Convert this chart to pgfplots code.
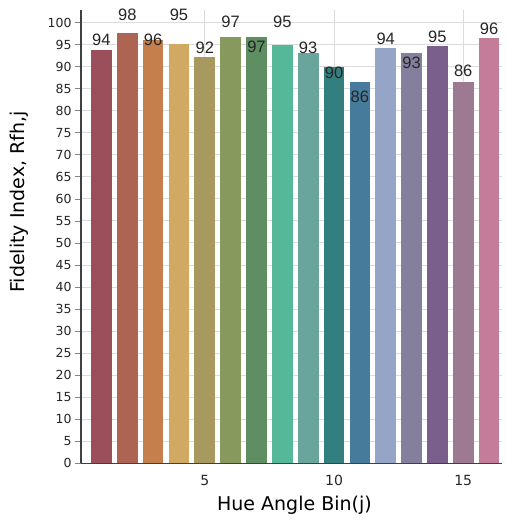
\documentclass[border=0pt]{standalone}
\usepackage{fontspec}
\setmainfont{DejaVu Sans}
\newfontfamily\valfont{Liberation Sans}
\usepackage{pgfplots}
\pgfplotsset{compat=1.18}
\definecolor{c1}{HTML}{9B4F5B}
\definecolor{c2}{HTML}{AE6452}
\definecolor{c3}{HTML}{C47F4D}
\definecolor{c4}{HTML}{D2A962}
\definecolor{c5}{HTML}{A89A5E}
\definecolor{c6}{HTML}{87995C}
\definecolor{c7}{HTML}{5E8E61}
\definecolor{c8}{HTML}{55B898}
\definecolor{c9}{HTML}{6AA59C}
\definecolor{c10}{HTML}{337F80}
\definecolor{c11}{HTML}{467B9B}
\definecolor{c12}{HTML}{95A5C8}
\definecolor{c13}{HTML}{857F9E}
\definecolor{c14}{HTML}{7A5E8C}
\definecolor{c15}{HTML}{9E7A92}
\definecolor{c16}{HTML}{C57C9B}
\definecolor{gridc}{HTML}{DCDCDC}
\definecolor{axc}{HTML}{404040}
\begin{document}
\begin{tikzpicture}
\path[use as bounding box] (-81pt,-58.7pt) rectangle (426pt,463.3pt);
\begin{axis}[
  scale only axis, width=421pt, height=453pt,
  xmin=0.21, xmax=16.5, ymin=0, ymax=102.8,
  axis x line*=bottom, axis y line*=left,
  axis line style={draw=axc, line width=1.5pt},
  ytick={0,5,...,100}, xtick={5,10,15},
  /pgf/number format/assume math mode=true,
  grid=major, grid style={draw=gridc, line width=1pt},
  tick align=outside,
  ytick style={draw=gridc!60!black, line width=0.8pt},
  major tick length=6pt,
  xtick style={draw=none},
  yticklabel style={font=\fontsize{12.5}{12.5}\selectfont, text=black!85},
  xticklabel style={font=\fontsize{14}{14}\selectfont, text=black!85, yshift=-2pt},
  xlabel={Hue Angle Bin(j)},
  ylabel={Fidelity Index, Rfh,j},
  xlabel style={font=\fontsize{19}{19}\selectfont, at={(axis description cs:0.507,-0.092)}, anchor=center},
  ylabel style={font=\fontsize{19}{19}\selectfont, at={(axis description cs:-0.146,0.577)}, anchor=center, rotate=0},
  ybar, bar width=0.8, bar shift=0pt,
  clip=false,
]
\addplot[fill=c1, draw=none] coordinates {(1,93.9)};
\addplot[fill=c2, draw=none] coordinates {(2,97.6)};
\addplot[fill=c3, draw=none] coordinates {(3,96.0)};
\addplot[fill=c4, draw=none] coordinates {(4,95.1)};
\addplot[fill=c5, draw=none] coordinates {(5,92.1)};
\addplot[fill=c6, draw=none] coordinates {(6,96.7)};
\addplot[fill=c7, draw=none] coordinates {(7,96.7)};
\addplot[fill=c8, draw=none] coordinates {(8,95.0)};
\addplot[fill=c9, draw=none] coordinates {(9,93.0)};
\addplot[fill=c10, draw=none] coordinates {(10,89.9)};
\addplot[fill=c11, draw=none] coordinates {(11,86.6)};
\addplot[fill=c12, draw=none] coordinates {(12,94.2)};
\addplot[fill=c13, draw=none] coordinates {(13,93.2)};
\addplot[fill=c14, draw=none] coordinates {(14,94.6)};
\addplot[fill=c15, draw=none] coordinates {(15,86.5)};
\addplot[fill=c16, draw=none] coordinates {(16,96.4)};
\addplot[sharp plot, draw=none, mark=none, nodes near coords, point meta=explicit symbolic,
  nodes near coords style={anchor=center, font=\valfont\fontsize{16.5}{16.5}\selectfont, text=black!85, inner sep=0pt}]
  coordinates {
  (1,96.0) [94]
  (2,101.7) [98]
  (3,96.0) [96]
  (4,101.7) [95]
  (5,94.3) [92]
  (6,100.1) [97]
  (7,94.5) [97]
  (8,100.1) [95]
  (9,94.3) [93]
  (10,88.7) [90]
  (11,83.1) [86]
  (12,96.4) [94]
  (13,90.9) [93]
  (14,96.7) [95]
  (15,89.0) [86]
  (16,98.6) [96]
  };
\end{axis}
\end{tikzpicture}
\end{document}
